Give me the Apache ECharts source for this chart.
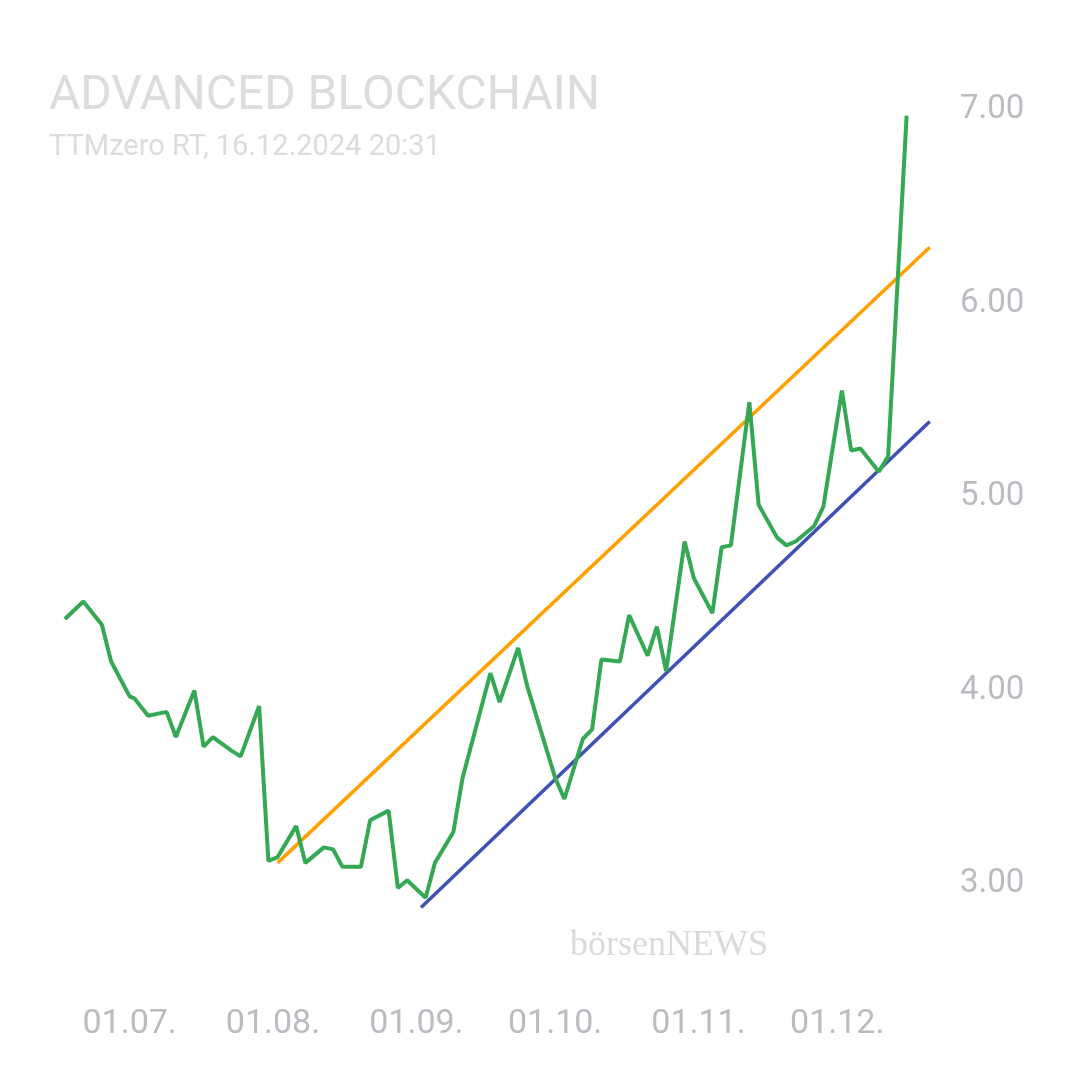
<!DOCTYPE html>
<html><head><meta charset="utf-8">
<script src="https://cdn.jsdelivr.net/npm/echarts@6/dist/echarts.min.js"></script>
<style>html,body{margin:0;background:#fff}#c{width:1080px;height:1080px}</style>
</head><body><div id="c"></div>
<script>
const dates = ["2024-06-17","2024-06-21","2024-06-25","2024-06-27","2024-07-01","2024-07-02","2024-07-05","2024-07-09","2024-07-11","2024-07-15","2024-07-17","2024-07-19","2024-07-23","2024-07-25","2024-07-29","2024-07-31","2024-08-02","2024-08-06","2024-08-08","2024-08-12","2024-08-14","2024-08-16","2024-08-20","2024-08-22","2024-08-26","2024-08-28","2024-08-30","2024-09-03","2024-09-05","2024-09-09","2024-09-11","2024-09-17","2024-09-19","2024-09-23","2024-09-25","2024-10-01","2024-10-03","2024-10-07","2024-10-09","2024-10-11","2024-10-15","2024-10-17","2024-10-21","2024-10-23","2024-10-25","2024-10-29","2024-10-31","2024-11-04","2024-11-06","2024-11-08","2024-11-12","2024-11-14","2024-11-18","2024-11-20","2024-11-22","2024-11-26","2024-11-28","2024-12-02","2024-12-04","2024-12-06","2024-12-10","2024-12-12","2024-12-16"];
const prices = [4.37,4.46,4.34,4.15,3.97,3.96,3.87,3.89,3.76,4.00,3.71,3.76,3.69,3.66,3.92,3.12,3.14,3.30,3.11,3.19,3.18,3.09,3.09,3.33,3.38,2.98,3.02,2.93,3.11,3.27,3.55,4.09,3.94,4.22,4.02,3.55,3.44,3.75,3.80,4.16,4.15,4.39,4.18,4.33,4.10,4.77,4.58,4.40,4.74,4.75,5.49,4.96,4.79,4.75,4.77,4.85,4.95,5.55,5.24,5.25,5.13,5.21,6.97];
const upperTrend = [["2024-08-02",3.11],["2024-12-21",6.29]];
const lowerTrend = [["2024-09-02",2.88],["2024-12-21",5.39]];
const xTicks = ["2024-07-01","2024-08-01","2024-09-01","2024-10-01","2024-11-01","2024-12-01"];
const yTicks = [3,4,5,6,7];
const ts = d => new Date(d+"T00:00:00Z").getTime();
const chart = echarts.init(document.getElementById('c'));
chart.setOption({
  animation:false,
  title:{text:"ADVANCED BLOCKCHAIN",subtext:"TTMzero RT, 16.12.2024 20:31",left:44,top:68,itemGap:12,
    textStyle:{fontFamily:"Roboto",fontSize:48,fontWeight:"normal",color:"#dcdcdc"},
    subtextStyle:{fontFamily:"Roboto",fontSize:29,color:"#dcdcdc"}},
  graphic:[{type:"text",left:570,top:928,style:{text:"börsenNEWS",font:"36px 'Liberation Serif'",fill:"#d8dadd"}}],
  grid:{left:51,right:141,top:71,bottom:99},
  xAxis:{type:"value",min:ts("2024-06-14"),max:ts("2024-12-23"),
    axisLine:{show:false},axisTick:{show:false},splitLine:{show:false},
    axisLabel:{customValues:xTicks.map(ts),margin:26,fontSize:34,fontFamily:"Roboto",color:"#b9bcc0",
      formatter:v=>{const d=new Date(v);return String(d.getUTCDate()).padStart(2,"0")+"."+String(d.getUTCMonth()+1).padStart(2,"0")+".";}}},
  yAxis:{type:"value",position:"right",min:2.5,max:7.2,
    axisLine:{show:false},axisTick:{show:false},splitLine:{show:false},
    axisLabel:{customValues:yTicks,margin:21,fontSize:33,fontFamily:"Roboto",color:"#b9bcc0",verticalAlign:"middle",padding:[6,0,0,0],formatter:v=>v.toFixed(2)}},
  series:[
    {type:"line",data:upperTrend.map(p=>[ts(p[0]),p[1]]),symbol:"none",lineStyle:{color:"#ffa000",width:3.5}},
    {type:"line",data:lowerTrend.map(p=>[ts(p[0]),p[1]]),symbol:"none",lineStyle:{color:"#3f51b5",width:3.5}},
    {type:"line",data:dates.map((d,i)=>[ts(d),prices[i]]),symbol:"none",lineStyle:{color:"#34a853",width:4}}
  ]
});
</script></body></html>
